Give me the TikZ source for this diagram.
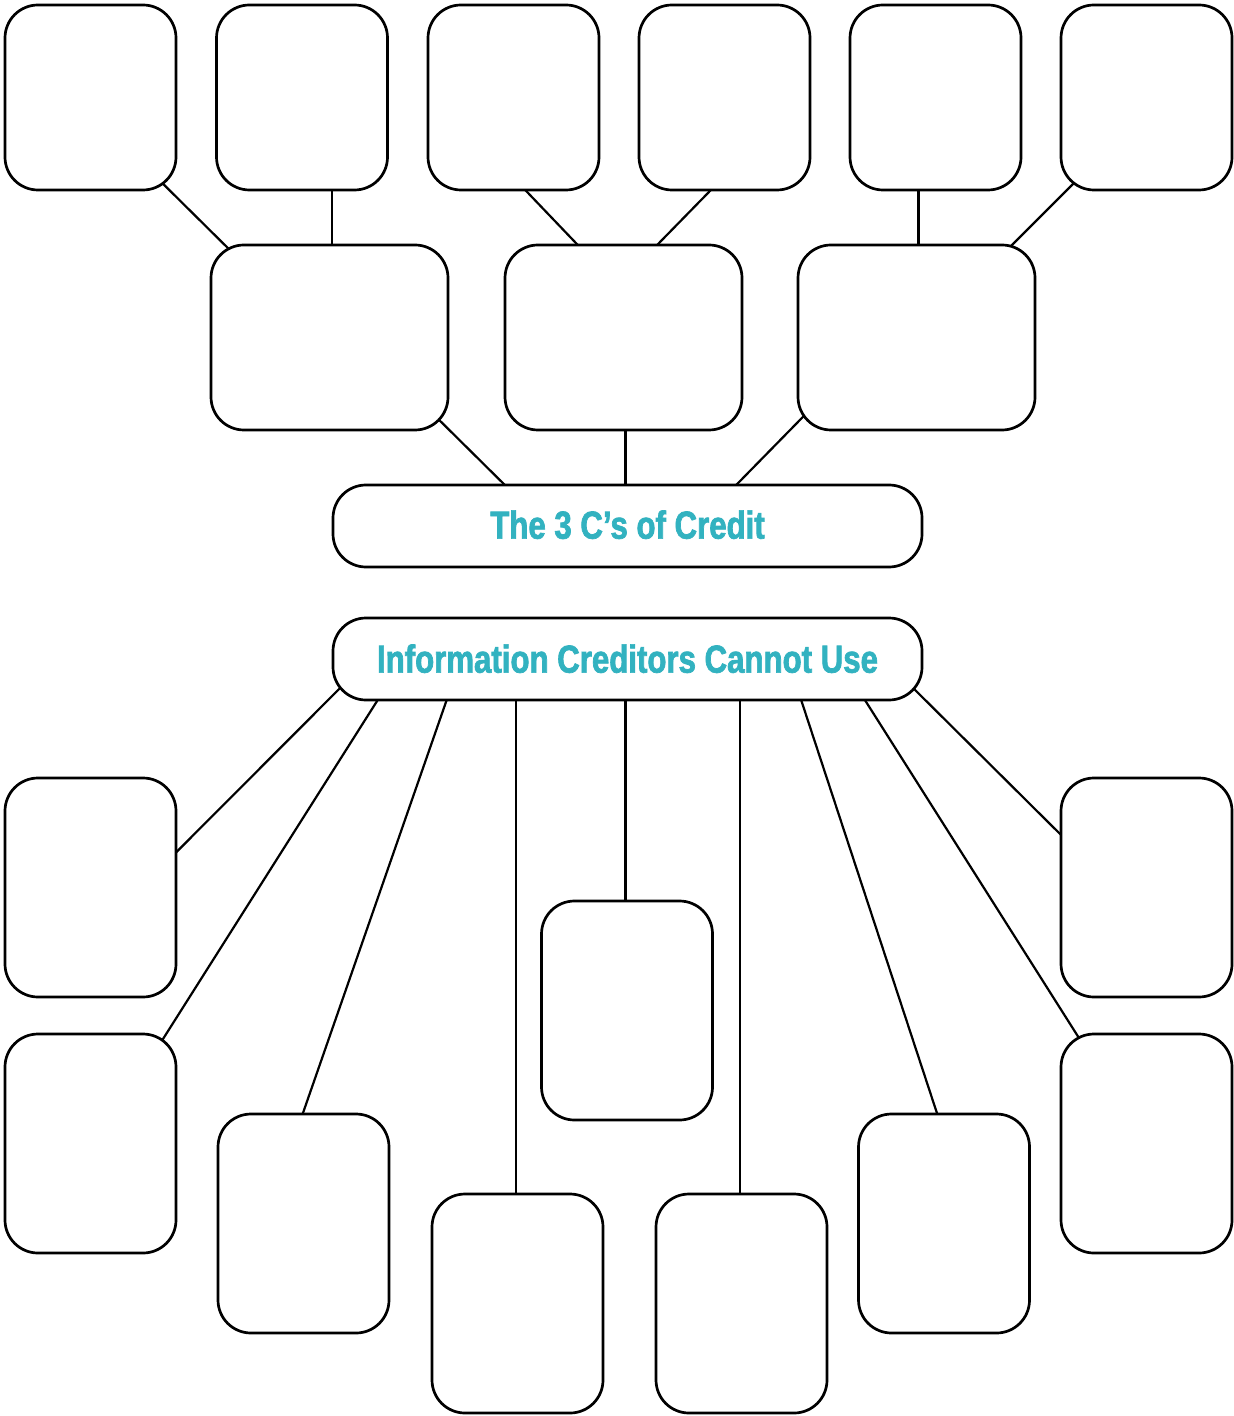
\documentclass[tikz,border=0pt]{standalone}
\usepackage{fontspec}
\usepackage{tikz}
\usetikzlibrary{calc, backgrounds}
\newfontfamily\headfont[FakeStretch=0.8, FakeBold=1.8]{Liberation Sans Bold}
\definecolor{creditteal}{RGB}{50,178,192}

\begin{document}
\begin{tikzpicture}[
    x=0.5pt, y=-0.5pt,
    % Box styles
    cbox/.style={draw, line width=1.35pt, rounded corners=16.5pt, fill=white, inner sep=0pt},
    leaf/.style={cbox, minimum width=85.5pt, minimum height=92.5pt},
    branch/.style={cbox, minimum width=118.5pt, minimum height=92.5pt},
    slot/.style={cbox, minimum width=85.5pt, minimum height=109.5pt},
    headbox/.style={cbox, minimum width=294.5pt, minimum height=41pt, text=creditteal, font=\headfont\fontsize{19.5pt}{20pt}\selectfont},
    % Edge style
    link/.style={line width=1.1pt}
]
\useasboundingbox (0,0) rectangle (1234,1416);

% Top row
\node[leaf] (top1) at (90.5,97.5) {};
\node[leaf] (top2) at (302,97.5) {};
\node[leaf] (top3) at (513.5,97.5) {};
\node[leaf] (top4) at (724.5,97.5) {};
\node[leaf] (top5) at (935.5,97.5) {};
\node[leaf] (top6) at (1146.5,97.5) {};

% Middle row
\node[branch] (mid1) at (329.5,337.5) {};
\node[branch] (mid2) at (623.5,337.5) {};
\node[branch] (mid3) at (916.5,337.5) {};

% Headings
\node[headbox] (credit) at (627.5,526) {\raisebox{1.5pt}{The 3 C’s of Credit}};
\node[headbox] (info) at (627.5,659) {\raisebox{0.5pt}{Information Creditors Cannot Use}};

% Bottom boxes
\node[slot] (left1) at (90.5,887.5) {};
\node[slot] (left2) at (90.5,1143.5) {};
\node[slot] (left3) at (303.5,1223.5) {};
\node[slot] (left4) at (517.5,1303.5) {};
\node[slot] (centre) at (627,1010.5) {};
\node[slot] (right4) at (741.5,1303.5) {};
\node[slot] (right3) at (944,1223.5) {};
\node[slot] (right2) at (1146.5,1143.5) {};
\node[slot] (right1) at (1146.5,887.5) {};

% Draw all edges (behind the boxes)
\begin{pgfonlayer}{background}
\draw[link] ($(top1)+(54.5,68.5)$) -- ($(mid1)+(-84.5,-72.5)$);
\draw[link] ($(mid1)+(2.5,0)$) -- ($(mid1 |- top2)+(2.5,0)$);

\draw[link] ($(top3)+(-5.5,74.5)$) -- ($(mid2)+(-28.5,-74.5)$);
\draw[link] ($(top4)+(4,74.5)$) -- ($(mid2)+(16,-74.5)$);

\draw[link] ($(mid3)+(2,0)$) -- ($(mid3 |- top5)+(2,0)$);
\draw[link] ($(top6)+(-56.5,69.5)$) -- ($(mid3)+(77.5,-74.5)$);

\draw[link] ($(mid1)+(93.5,66.5)$) -- ($(credit)+(-106.5,-25)$);
\draw[link] ($(mid2)+(2,0)$) -- ($(mid2 |- credit)+(2,0)$);
\draw[link] ($(mid3)+(-97,62.5)$) -- ($(credit)+(92,-24)$);

\draw[link] ($(info)+(-272,13.6)$) -- ($(left1)+(68.5,-18)$);
\draw[link] ($(info)+(-237.5,21.6)$) -- ($(left2)+(59.5,-84)$);
\draw[link] ($(info)+(-173.3,19.4)$) -- ($(left3)+(-8.7,-87)$);
\draw[link] ($(left4)+(-1.5,0)$) -- ($(left4 |- info)+(-1.5,0)$);
\draw[link] ($(centre)+(-1.5,0)$) -- ($(centre |- info)+(-1.5,0)$);
\draw[link] ($(right4)+(-1.5,0)$) -- ($(right4 |- info)+(-1.5,0)$);
\draw[link] ($(info)+(166.4,19)$) -- ($(right3)+(0.8,-86.5)$);
\draw[link] ($(info)+(225.1,21.6)$) -- ($(right2)+(-55.5,-86.5)$);
\draw[link] ($(info)+(271.5,15)$) -- ($(right1)+(-67.8,-35)$);
\end{pgfonlayer}

\end{tikzpicture}
\end{document}
